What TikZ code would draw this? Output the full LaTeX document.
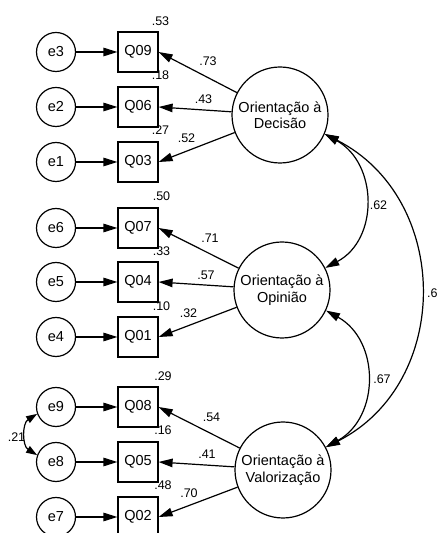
\documentclass[tikz,border=0pt]{standalone}
\usepackage{fontspec}
\setmainfont{Liberation Sans}
\usetikzlibrary{arrows.meta}

\begin{document}
\begin{tikzpicture}[x=1pt,y=1pt,
  font=\fontsize{14.5}{16.5}\selectfont,
  err/.style={circle, draw, line width=1.2pt, minimum size=39pt, inner sep=0pt},
  obs/.style={rectangle, draw, line width=1.2pt, minimum size=40pt, inner sep=0pt},
  lat/.style={circle, draw, line width=1.2pt, minimum size=96pt, inner sep=0pt, align=center},
  coef/.style={font=\fontsize{12.5}{14}\selectfont, inner sep=0pt},
  arr/.style={line width=1.2pt, -{Triangle[length=14pt,width=8.5pt]}},
  cov/.style={line width=1.2pt, {Triangle[length=14pt,width=8.5pt]}-{Triangle[length=14pt,width=8.5pt]}},
  covs/.style={line width=1.2pt, {Triangle[length=11pt,width=7.5pt]}-{Triangle[length=11pt,width=7.5pt]}},
]
\useasboundingbox (0,0) rectangle (438,533);

% latent factors
\node[lat] (D) at (280,418) {Orientação à\\Decisão};
\node[lat] (O) at (282,243) {Orientação à\\Opinião};
\node[lat] (V) at (283,63)  {Orientação à\\Valorização};

% indicators and their errors
\foreach \e/\q/\y in {e3/Q09/481, e2/Q06/426, e1/Q03/371,
                      e6/Q07/305, e5/Q04/251, e4/Q01/196,
                      e9/Q08/126, e8/Q05/71,  e7/Q02/16}{
  \node[err] (\e) at (56,\y) {\e};
  \node[obs] (\q) at (138,\y) {\q};
  \draw[arr] (\e) -- (\q);
}

% loadings
\draw[arr] (D) -- (Q09.east);
\draw[arr] (D) -- (Q06.east);
\draw[arr] (D) -- (Q03.east);
\draw[arr] (O) -- (Q07.east);
\draw[arr] (O) -- (Q04.east);
\draw[arr] (O) -- (Q01.east);
\draw[arr] (V) -- (Q08.east);
\draw[arr] (V) -- (Q05.east);
\draw[arr] (V) -- (Q02.east);

% factor covariances
\draw[cov] (D.-23) to[out=-29, in=28, looseness=1.16] (O.27);
\draw[cov] (O.-25) to[out=-29, in=29, looseness=1.16] (V.28);
\draw[cov] (D.-23) to[out=-27, in=27, looseness=1.16] (V.28);

% error covariance
\draw[covs] (e9.200) to[out=212, in=148, looseness=1.1] (e8.160);

% squared multiple correlations
\node[coef] (r09) at (160.5,512) {.53};
\node[coef] (r06) at (160.5,458) {.18};
\node[coef] (r03) at (160.5,403) {.27};
\node[coef] (r07) at (161.5,337) {.50};
\node[coef] (r04) at (161.5,282) {.33};
\node[coef] (r01) at (161.5,227) {.10};
\node[coef] (r08) at (163,157) {.29};
\node[coef] (r05) at (163,103) {.16};
\node[coef] (r02) at (163,48)  {.48};

% standardized loadings
\node[coef] (l09) at (208,472)   {.73};
\node[coef] (l06) at (203.5,434) {.43};
\node[coef] (l03) at (186.5,395) {.52};
\node[coef] (l07) at (210,295)   {.71};
\node[coef] (l04) at (206,258)   {.57};
\node[coef] (l01) at (188.5,220) {.32};
\node[coef] (l08) at (211.5,116) {.54};
\node[coef] (l05) at (207,79)    {.41};
\node[coef] (l02) at (189,40)    {.70};

% correlations
\node[coef] (kDO) at (378.5,328) {.62};
\node[coef] (kOV) at (382,154)   {.67};
\node[coef, anchor=west] (kDV) at (427,240) {.6};
\node[coef] (k98) at (16.5,96)   {.21};
\end{tikzpicture}
\end{document}
